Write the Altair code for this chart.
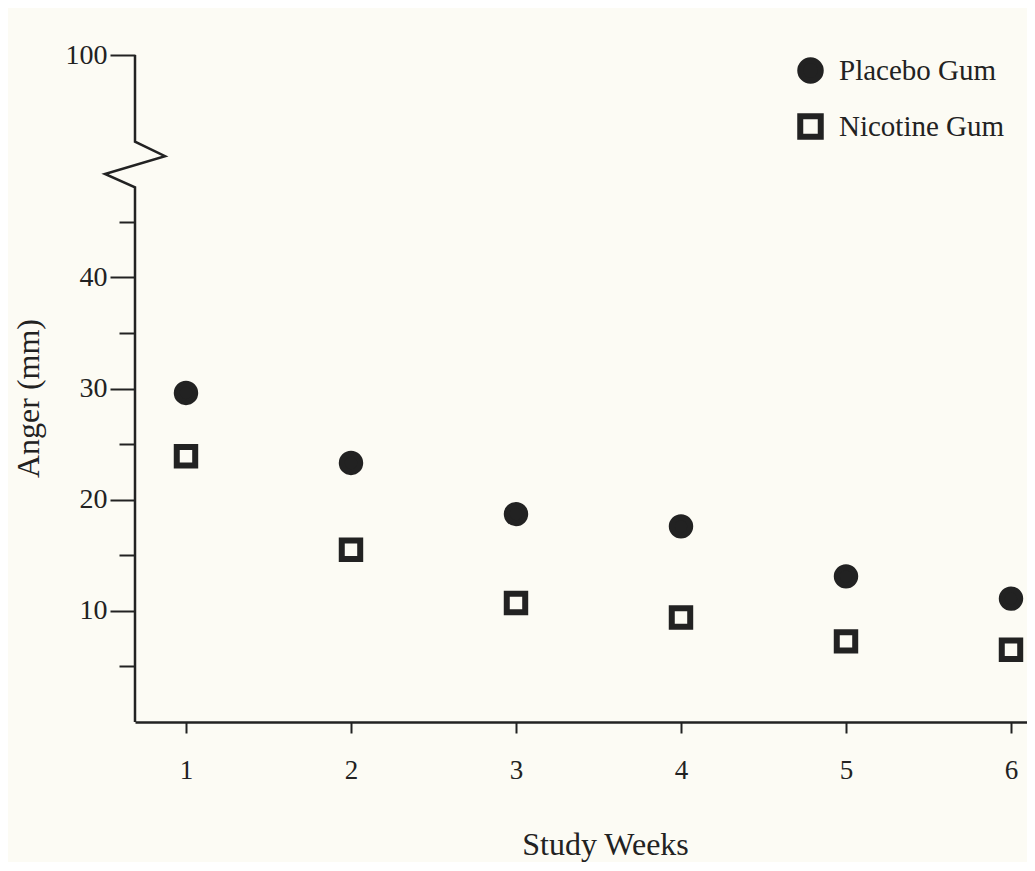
import altair as alt
import pandas as pd

# ---- data ----
weeks = [1, 2, 3, 4, 5, 6]
placebo = [29.6, 23.3, 18.7, 17.6, 13.1, 11.1]
nicotine = [23.9, 15.5, 10.7, 9.4, 7.25, 6.5]
groups = ["Placebo Gum", "Nicotine Gum"]

# y-axis break: 40s continue, then jump to 100 (drawn at position 60)
y_tick_values = [5, 10, 15, 20, 25, 30, 35, 40, 45, 60]
break_week = [0.691, 0.691, 0.873, 0.509, 0.691, 0.691]
break_value = [60, 52.2, 50.9, 49.3, 48.1, 0]

INK = "#222222"
BG = "#fcfbf4"
FONT = "Liberation Serif"

rows = []
for w, p, n in zip(weeks, placebo, nicotine):
    rows.append({"week": w, "value": p, "Treatment": groups[0]})
    rows.append({"week": w, "value": n, "Treatment": groups[1]})
df = pd.DataFrame(rows)
brk = pd.DataFrame({"week": break_week, "value": break_value,
                    "idx": list(range(len(break_week)))})

x_enc = alt.X("week:Q",
              scale=alt.Scale(domain=[0.691, 6.097], nice=False, zero=False),
              axis=alt.Axis(values=weeks, title="Study Weeks", grid=False,
                            tickSize=11, tickWidth=2, tickColor=INK,
                            domainColor=INK, domainWidth=2.5,
                            labelFont=FONT, labelFontSize=27, labelColor=INK,
                            labelPadding=24, labelFlush=False,
                            titleFont=FONT, titleFontSize=32, titleColor=INK,
                            titleFontWeight="normal", titleX=470, titleY=122,
                            titleBaseline="middle", titleAlign="center"))
y_enc = alt.Y("value:Q",
              scale=alt.Scale(domain=[0, 60], nice=False),
              axis=alt.Axis(values=y_tick_values, title="Anger (mm)", grid=False,
                            domain=False,
                            tickSize={"condition": {"test": "datum.value % 10 === 0", "value": 25}, "value": 16},
                            tickWidth=2, tickColor=INK,
                            labelExpr="datum.value == 60 ? '100' : (datum.value % 10 == 0 ? datum.label : '')",
                            labelFont=FONT, labelFontSize=28, labelColor=INK,
                            labelPadding=3,
                            titleFont=FONT, titleFontSize=32, titleColor=INK,
                            titleFontWeight="normal", titleAngle=270,
                            titleX=-107, titleY=343,
                            titleBaseline="middle", titleAlign="center"))

legend = alt.Legend(orient="none", legendX=661, legendY=1, title=None,
                    labelFont=FONT, labelFontSize=29, labelColor=INK,
                    labelLimit=400,
                    symbolSize=420, symbolStrokeWidth=6,
                    rowPadding=11, labelOffset=14, padding=0)

points = alt.Chart(df).mark_point(filled=True, strokeWidth=6,
                                  size=340, opacity=1).encode(
    x=x_enc, y=y_enc,
    fill=alt.Fill("Treatment:N", scale=alt.Scale(domain=groups, range=[INK, BG]),
                  legend=legend),
    stroke=alt.Stroke("Treatment:N", scale=alt.Scale(domain=groups, range=[INK, INK]),
                      legend=legend),
    shape=alt.Shape("Treatment:N", scale=alt.Scale(domain=groups, range=["circle", "square"]),
                    legend=legend),
)

axis_line = alt.Chart(brk).mark_line(color=INK, strokeWidth=2.5).encode(
    x=x_enc, y=y_enc, order="idx:Q")

chart = alt.layer(axis_line, points).properties(
    width=892, height=667,
    autosize=alt.AutoSizeParams(type="none"),
    padding={"left": 127, "top": 47, "right": 0, "bottom": 140},
    background=BG,
).configure_view(stroke=None)

chart.save("out.html", embed_options={"renderer": "svg", "actions": False})
